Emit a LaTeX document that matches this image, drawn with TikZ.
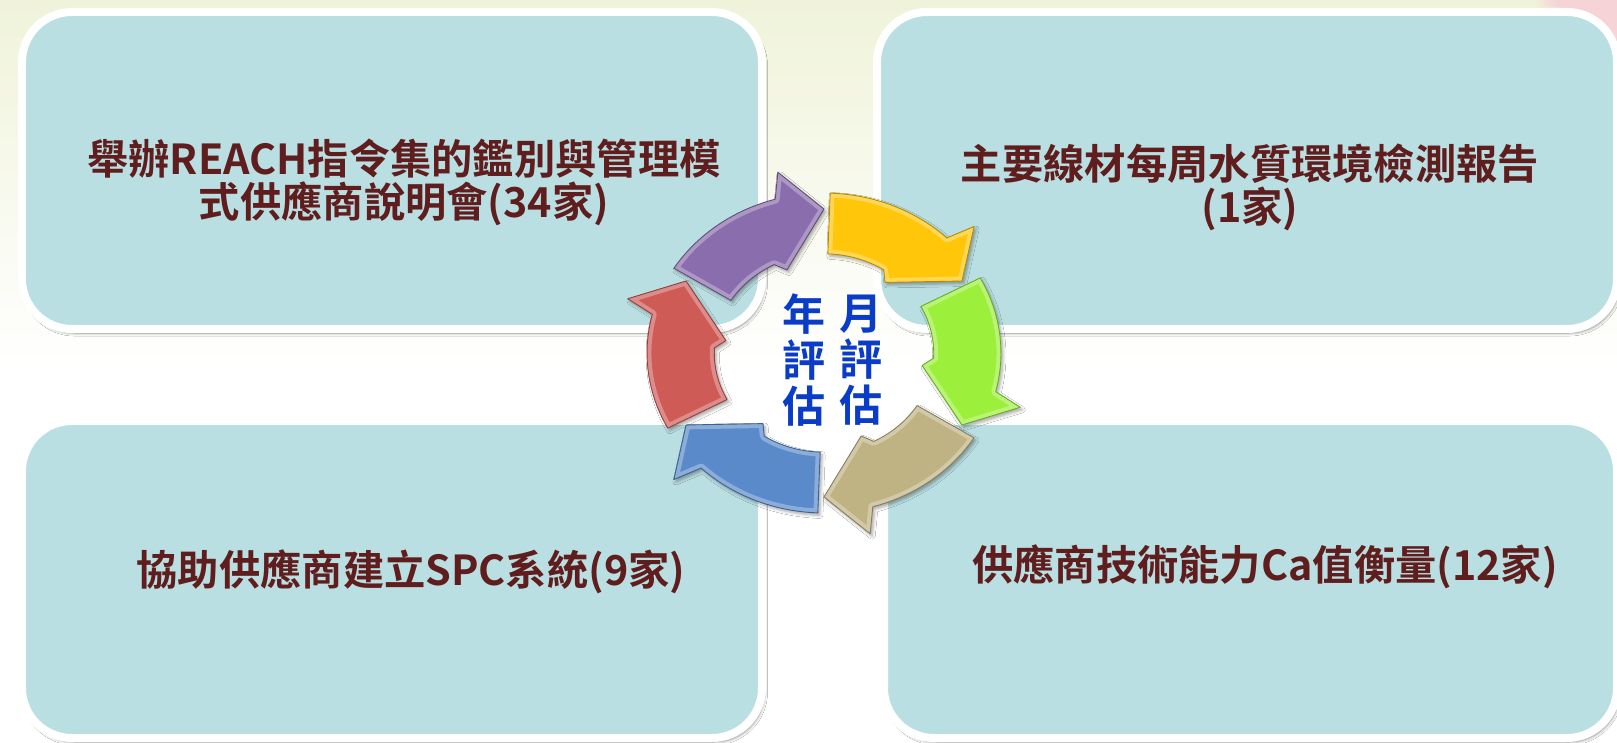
\documentclass[tikz,border=0pt]{standalone}
\usepackage{fontspec}
\usetikzlibrary{shadows.blur,fadings}
\newfontfamily\cjk{Noto Sans CJK TC}[BoldFont={Noto Sans CJK TC Bold}]
\definecolor{boxblue}{HTML}{BADFE2}
\definecolor{txtred}{HTML}{5F1D1D}
\definecolor{cblue}{HTML}{0A3CC8}
\definecolor{cyYellow}{HTML}{FFC60A}
\definecolor{cyGreen}{HTML}{9CF03C}
\definecolor{cyTan}{HTML}{BFB283}
\definecolor{cyBlue}{HTML}{5A8ACA}
\definecolor{cyRed}{HTML}{CF5B57}
\definecolor{cyPurple}{HTML}{8A6DAD}
\definecolor{bgcream}{HTML}{F0F3DA}
\definecolor{bgpink}{HTML}{F5D3D6}

\newcommand\cycpath[1]{%
    ({0.62*cos(#1+58)},{0.62*sin(#1+58)}) -- ({cos(#1+58)},{sin(#1+58)})
    -- plot[variable=\t, domain={#1+58}:{#1+16}, samples=20] ({cos(\t)},{sin(\t)})
    -- ({1.16*cos(#1+13)},{1.16*sin(#1+13)})
    -- ({0.9*cos(#1)},{0.9*sin(#1)})
    -- ({0.56*cos(#1+22)},{0.56*sin(#1+22)})
    -- ({0.62*cos(#1+27)},{0.62*sin(#1+27)})
    -- plot[variable=\t, domain={#1+27}:{#1+58}, samples=15] ({0.62*cos(\t)},{0.62*sin(\t)})
    -- cycle}

\newcommand\cycarrow[2]{%
  \path[cyclearrow, fill=#2] \cycpath{#1};
  \begin{scope}
    \clip \cycpath{#1};
    \draw[line width=5pt, draw=#2!45!white, opacity=0.55, line join=round] \cycpath{#1};
  \end{scope}
  \draw[line width=0.5pt, draw=#2!70!black, line join=round] \cycpath{#1};}

\tikzset{
  panel/.style={fill=boxblue, draw=white, line width=0.16cm, rounded corners=1cm,
    blur shadow={shadow xshift=0.05cm, shadow yshift=-0.08cm, shadow blur steps=6, shadow opacity=45}},
  paneltext/.style={font=\cjk\bfseries\fontsize{23.5}{24.5}\selectfont, text=txtred, align=center, inner sep=0pt},
  centertext/.style={font=\cjk\bfseries\fontsize{24.5}{26.2}\selectfont, text=cblue, align=center, inner sep=0pt},
  cyclearrow/.style={line join=round,
    blur shadow={shadow xshift=0.04cm, shadow yshift=-0.05cm, shadow blur steps=4, shadow opacity=35}}
}

\begin{document}
\begin{tikzpicture}[x=0.02cm, y=-0.02cm]
\useasboundingbox (0,0) rectangle (1617,743);
\clip (0,0) rectangle (1617,743);
% background
\fill[white] (0,0) rectangle (1617,743);
\shade[top color=bgcream, bottom color=white] (0,0) rectangle (1617,370);
\fill[bgpink, path fading=circle with fuzzy edge 20 percent] (1640,-30) circle (110);

% panels
\path[panel] (22,12) rectangle (762,329);
\path[panel] (877,12) rectangle (1617,329);
\path[panel] (22,421) rectangle (762,738);
\path[panel] (884,421) rectangle (1617,738);

% panel texts
\node[paneltext] (tTL) at (404,182) {舉辦REACH指令集的鑑別與管理模\\式供應商說明會(34家)};
\node[paneltext] (tTR) at (1250,187) {主要線材每周水質環境檢測報告\\(1家)};
\node[paneltext] (tBL) at (411,572) {協助供應商建立SPC系統(9家)};
\node[paneltext] (tBR) at (1265,567) {供應商技術能力Ca值衡量(12家)};

% cycle arrows
\coordinate (cc) at (824,353);
\begin{scope}[shift={(cc)}, x=3.54cm, y=3.2cm]
  \cycarrow{30}{cyYellow}
  \cycarrow{-30}{cyGreen}
  \cycarrow{-90}{cyTan}
  \cycarrow{-150}{cyBlue}
  \cycarrow{150}{cyRed}
  \cycarrow{90}{cyPurple}
\end{scope}

% centre texts
\node[centertext] (tYear) at (804,360) {年\\評\\估};
\node[centertext] (tMonth) at (861,360) {月\\評\\估};
\end{tikzpicture}
\end{document}
